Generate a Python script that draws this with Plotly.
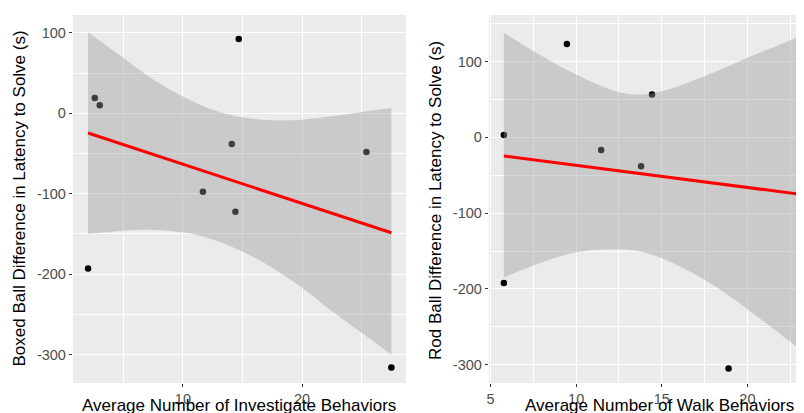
import numpy as np
import plotly.graph_objects as go

W, H = 804, 413

# ---------------- data ----------------
# Left panel: Investigate behaviours vs Boxed Ball latency difference
inv_x = [2.04, 2.6, 3.02, 11.68, 14.1, 14.41, 14.69, 25.41, 27.5]
inv_y = [-193, 19, 10, -97.5, -38.2, -122.4, 92.4, -48, -316]
# 95% confidence band of the smoother
inv_band_x = [2.04, 5, 7.5, 10, 12.5, 15, 17.5, 20, 22.5, 25, 27.5]
inv_band_hi = [101, 69, 42, 21, 4.5, -5, -8.7, -8, -3.7, 1.6, 6.6]
inv_band_lo = [-150, -146, -145, -148, -157, -172, -192, -217, -246, -273, -300]

# Right panel: Walk behaviours vs Rod Ball latency difference
walk_x = [5.78, 5.78, 9.46, 11.46, 13.79, 14.43, 18.9, 23.4]
walk_y = [3, -192, 123, -16.8, -38.3, 56.3, -305, 6.6]
walk_band_x = [5.78, 7.5, 10, 12.5, 13.75, 15, 17.5, 20, 22.5, 23.4]
walk_band_hi = [138, 113.7, 82.8, 59.5, 56.5, 60.8, 80.6, 105, 128, 138]
walk_band_lo = [-185, -169, -151.6, -147.5, -150.5, -159.6, -188, -226.6, -269.7, -285]

left_xticks = [10, 20]
left_xminor = [5, 15, 25]
right_xticks = [5, 10, 15, 20]
right_xminor = [7.5, 12.5, 17.5, 22.5]
yticks = [-300, -200, -100, 0, 100]
ytick_labels = ["-300", "-200", "-100", "0", "100"]
yminor = [-250, -150, -50, 50, 150]

x_titles = ["Average Number of Investigate Behaviors", "Average Number of Walk Behaviors"]
y_titles = ["Boxed Ball Difference in Latency to Solve (s)",
            "Rod Ball Difference in Latency to Solve (s)"]

FONT = "Liberation Sans, Arial, sans-serif"
BAND = "rgba(153,153,153,0.4)"

fig = go.Figure()


def add_panel(xs, ys, bx, bhi, blo, xa, ya):
    # points (drawn first, so the band sits over them as in ggplot)
    fig.add_trace(go.Scatter(x=xs, y=ys, mode="markers",
                             marker=dict(color="black", size=6.5),
                             xaxis=xa, yaxis=ya, showlegend=False, hoverinfo="skip"))
    # confidence band
    fig.add_trace(go.Scatter(x=bx, y=bhi, mode="lines", line=dict(width=0, shape="spline"),
                             xaxis=xa, yaxis=ya, showlegend=False, hoverinfo="skip"))
    fig.add_trace(go.Scatter(x=bx, y=blo, mode="lines", line=dict(width=0, shape="spline"),
                             fill="tonexty", fillcolor=BAND,
                             xaxis=xa, yaxis=ya, showlegend=False, hoverinfo="skip"))
    # linear fit
    slope, icpt = np.polyfit(np.array(xs, float), np.array(ys, float), 1)
    lx = np.array([min(xs), max(xs)])
    fig.add_trace(go.Scatter(x=lx, y=slope * lx + icpt, mode="lines",
                             line=dict(color="#FF0000", width=3),
                             xaxis=xa, yaxis=ya, showlegend=False, hoverinfo="skip"))


add_panel(inv_x, inv_y, inv_band_x, inv_band_hi, inv_band_lo, "x", "y")
add_panel(walk_x, walk_y, walk_band_x, walk_band_hi, walk_band_lo, "x2", "y2")

tickfont = dict(family=FONT, size=14.5, color="#4D4D4D")
common = dict(showgrid=True, gridcolor="white", gridwidth=1.1, zeroline=False,
              showline=False, ticks="outside", ticklen=3, tickcolor="#333333",
              tickwidth=1, tickfont=tickfont)

ydom = [38 / H, 406 / H]

fig.update_layout(
    width=W, height=H,
    margin=dict(l=0, r=0, t=0, b=0),
    paper_bgcolor="white", plot_bgcolor="#EBEBEB",
    font=dict(family=FONT),
    xaxis=dict(domain=[63 / W, 397 / W], range=[0.76, 28.73], tickvals=left_xticks,
               minor=dict(tickvals=left_xminor, showgrid=True, gridcolor="white",
                          gridwidth=0.5, ticks=""),
               anchor="y", **common),
    yaxis=dict(domain=ydom, range=[-335.4, 122.3], tickvals=yticks, ticktext=ytick_labels,
               minor=dict(tickvals=yminor, showgrid=True, gridcolor="white",
                          gridwidth=0.5, ticks=""),
               anchor="x", **common),
    xaxis2=dict(domain=[480 / W, 1.0], range=[4.9, 23.77], tickvals=right_xticks,
                minor=dict(tickvals=right_xminor, showgrid=True, gridcolor="white",
                           gridwidth=0.5, ticks=""),
                anchor="y2", **common),
    yaxis2=dict(domain=ydom, range=[-324, 161.3], tickvals=yticks, ticktext=ytick_labels,
                minor=dict(tickvals=yminor, showgrid=True, gridcolor="white",
                           gridwidth=0.5, ticks=""),
                anchor="x2", **common),
)

title_font = dict(family=FONT, size=17, color="black")
fig.add_annotation(text=x_titles[0], xref="paper", yref="paper", x=230 / W, y=(H - 397) / H,
                   xanchor="center", yanchor="middle", showarrow=False, font=title_font)
fig.add_annotation(text=x_titles[1], xref="paper", yref="paper", x=651 / W, y=(H - 397) / H,
                   xanchor="center", yanchor="middle", showarrow=False, font=title_font)
fig.add_annotation(text=y_titles[0], xref="paper", yref="paper", x=10 / W, y=(H - 190.5) / H,
                   xanchor="center", yanchor="middle", textangle=-90, showarrow=False,
                   font=title_font)
fig.add_annotation(text=y_titles[1], xref="paper", yref="paper", x=426 / W, y=(H - 192) / H,
                   xanchor="center", yanchor="middle", textangle=-90, showarrow=False,
                   font=title_font)

fig.write_html("out.html")
